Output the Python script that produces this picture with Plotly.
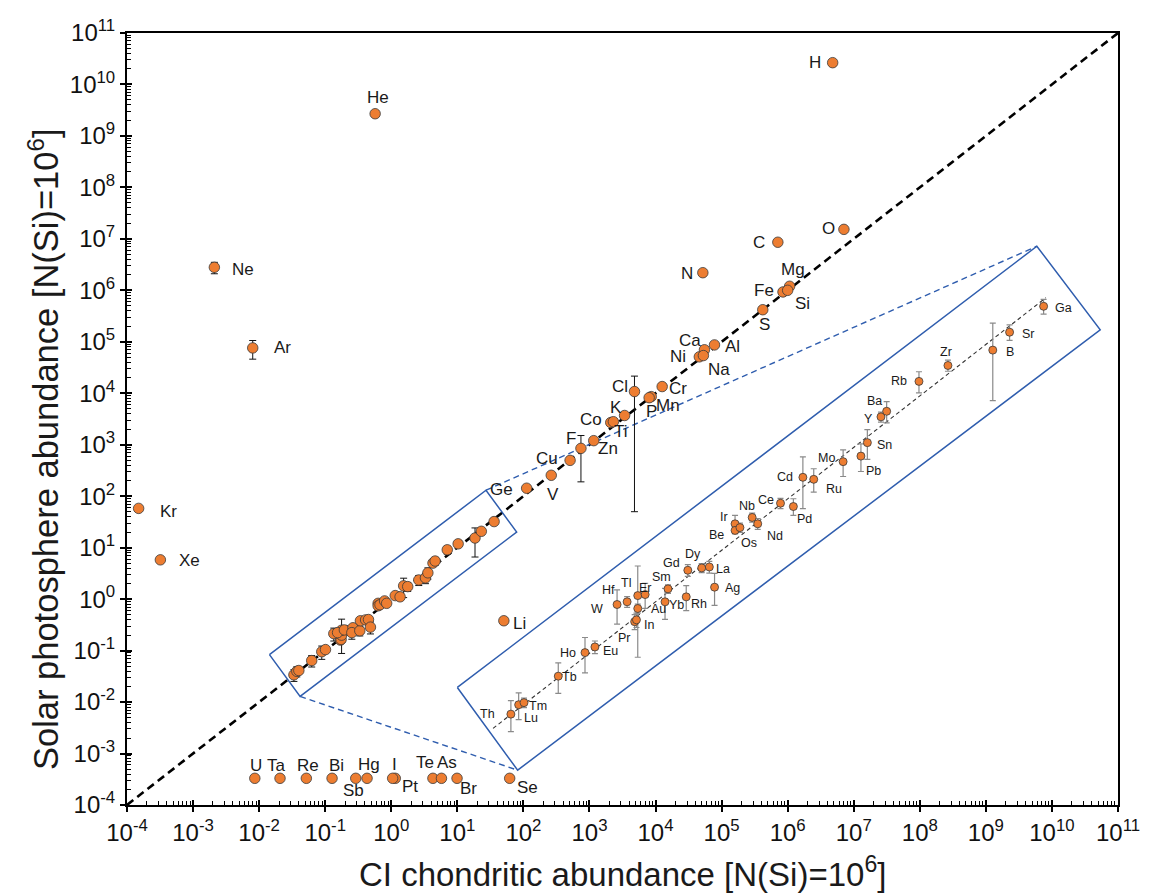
import numpy as np
import plotly.graph_objects as go

# ---------------- abundances, N(Si) = 1e6 ----------------
# elements drawn only on the main axes
MAIN_ELEMENTS = ["H", "He", "C", "N", "O", "Ne", "Ar", "Kr", "Xe", "Mg", "Fe", "Si", "S", "Al",
                 "Ca", "Ni", "Na", "Cl", "Cr", "Mn", "P", "K", "Co", "Ti", "Zn", "F", "Cu", "V",
                 "Ge", "Li"]
MAIN_CI = [4.8e6, 0.57, 7.1e5, 5.2e4, 7.1e6, 2.1e-3, 8.0e-3, 1.5e-4, 3.2e-4, 1.07e6, 8.5e5, 1.0e6,
           4.2e5, 7.8e4, 5.5e4, 4.6e4, 5.3e4, 4.8e3, 1.26e4, 8.6e3, 8.0e3, 3.4e3, 2.1e3, 2.3e3,
           1.16e3, 743, 509, 264, 112, 50.6]
MAIN_SOLAR = [2.65e10, 2.7e9, 8.6e6, 2.2e6, 1.53e7, 2.8e6, 7.6e4, 58, 5.8, 1.2e6, 9.3e5, 1.0e6,
              4.2e5, 8.7e4, 7.0e4, 5.1e4, 5.4e4, 1.08e4, 1.35e4, 8.6e3, 8.2e3, 3.7e3, 2.7e3, 2.8e3,
              1.2e3, 850, 497, 255, 143, 0.38]
MAIN_ERR = [0, 0, 0, 2.0e5, 1.0e6, 7.0e5, 3.0e4, 0, 0, 1.0e5, 1.0e5, 0, 3.0e4, 6.0e3, 5.0e3, 4.0e3,
            4.0e3, 1.075e4, 1.0e3, 600, 600, 300, 200, 200, 100, 660, 50, 20, 15, 0.05]

# trace elements: shown on the main axes and again, magnified, in the inset
INSET_ELEMENTS = ["Th", "Lu", "Tm", "Tb", "Ho", "Eu", "Pr", "In", "Au", "Tl", "W", "Hf", "Er", "Sm",
                  "Yb", "Rh", "Gd", "Dy", "La", "Ag", "Ir", "Be", "Os", "Nb", "Nd", "Ce", "Pd", "Cd",
                  "Ru", "Mo", "Pb", "Sn", "Y", "Ba", "Rb", "Zr", "B", "Sr", "Ga"]
INSET_CI = [0.0336, 0.0372, 0.0399, 0.0625, 0.0887, 0.101, 0.170, 0.174, 0.177, 0.177, 0.135, 0.154,
            0.195, 0.263, 0.253, 0.334, 0.341, 0.409, 0.452, 0.484, 0.633, 0.633, 0.675, 0.792,
            0.852, 1.148, 1.359, 1.539, 1.774, 2.607, 3.292, 3.581, 4.28, 4.611, 7.04, 10.29,
            18.51, 23.07, 36.02]
INSET_SOLAR = [0.0338, 0.0396, 0.0410, 0.064, 0.0951, 0.1046, 0.160, 0.165, 0.1996, 0.248, 0.2135,
               0.2234, 0.2524, 0.2777, 0.2234, 0.2428, 0.3798, 0.3947, 0.4014, 0.2857, 0.829, 0.742,
               0.778, 0.9226, 0.829, 1.172, 1.109, 1.812, 1.752, 2.357, 2.588, 3.246, 5.008, 5.499,
               9.09, 11.88, 15.38, 20.79, 32.13]
INSET_ERR = [0.0086, 0.0088, 0.0033, 0.016, 0.0275, 0.011, 0.02, 0.02, 0.015, 0.16, 0.06, 0.02,
             0.052, 0.02, 0.057, 0.05, 0.037, 0.03, 0.04, 0.075, 0.127, 0.04, 0.06, 0.07, 0.075,
             0.1, 0.155, 0.74, 0.34, 0.52, 0.59, 0.8, 0.42, 0.98, 1.6, 1.1, 8.8, 2.7, 4.0]

# elements without a photospheric determination, parked on a floor level
FLOOR_ELEMENTS = ["U", "Ta", "Re", "Bi", "Sb", "Hg", "I", "Pt", "Te", "As", "Br", "Se"]
FLOOR_CI = [8.6e-3, 0.0207, 0.0518, 0.127, 0.29, 0.43, 1.15, 1.05, 4.27, 5.75, 9.9, 62]
FLOOR_SOLAR = [3.3e-4] * len(FLOOR_ELEMENTS)

DECADES = list(range(-4, 12))

# ---------------- layout helpers ----------------
ORANGE = "#ED7D31"
EDGE = "#3a3a3a"
BLUE = "#2F5DAE"
FONT = "Liberation Sans, Arial, sans-serif"

# inset magnification (log space): X = shift_x + zoom*log10(x), Y = shift_y + zoom*log10(y)
INSET_ZOOM = 2.661
INSET_SHIFT = (5.732, 1.68)
INSET_LINE_SPAN = (-1.575, 1.569)          # extent of the 1:1 guide inside the inset (log10)

# outlines (log10 units)
ZOOM_BOX = [(-1.844, -1.078), (-1.380, -1.890), (1.898, 1.303), (1.434, 2.116)]
INSET_BOX = [(1.0, -1.716), (1.913, -3.323), (10.731, 5.232), (9.772, 6.857)]

MAIN_LABEL_SHIFT = {
    "H": (-18, 0), "He": (3, 16), "C": (-19, 0), "N": (-16, -1), "O": (-15, 1), "Ne": (29, -2),
    "Ar": (30, 0), "Kr": (30, -3), "Xe": (29, -1), "Mg": (3, 17), "Fe": (-19, 1), "Si": (15, -13),
    "S": (2, -15), "Al": (18, -2), "Ca": (-14, 9), "Ni": (-21, 0), "Na": (16, -14), "Cl": (-14, 5),
    "Cr": (16, -2), "Mn": (17, -9), "P": (2, -14), "K": (-9, 8), "Co": (-20, 3), "Ti": (8, -10),
    "Zn": (14, -8), "F": (-10, 10), "Cu": (-23, 2), "V": (2, -19), "Ge": (-25, -1), "Li": (16, -3),
}
FLOOR_LABEL_SHIFT = {
    "U": (1, 13), "Ta": (-4, 13), "Re": (2, 13), "Bi": (4, 13), "Sb": (-2, -12), "Hg": (2, 14),
    "I": (-1, 14), "Pt": (17, -8), "Te": (-8, 16), "As": (6, 16), "Br": (11, -10), "Se": (18, -9),
}
INSET_LABEL_SHIFT = {
    "Th": (-23, 0), "Lu": (12, -13), "Tm": (14, -3), "Tb": (11, -1), "Ho": (-17, 0), "Eu": (16, -4),
    "Pr": (-10, -16), "In": (13, -5), "Au": (21, 0), "Tl": (-12, 13), "W": (-20, -4),
    "Hf": (-19, 12), "Er": (0, 7), "Sm": (-6, 12), "Yb": (11, -3), "Rh": (13, -7), "Gd": (-16, 7),
    "Dy": (-9, 14), "La": (14, -2), "Ag": (18, -1), "Ir": (-11, 7), "Be": (-19, -5),
    "Os": (9, -15), "Nb": (-5, 11), "Nd": (17, -12), "Ce": (-15, 3), "Pd": (11, -12),
    "Cd": (-18, 0), "Ru": (20, -10), "Mo": (-17, 4), "Pb": (13, -15), "Sn": (17, -2),
    "Y": (-12, -2), "Ba": (-12, 10), "Rb": (-20, 0), "Zr": (-2, 13), "B": (17, -2), "Sr": (19, -2),
    "Ga": (20, -2),
}


def to_inset(lx, ly):
    return INSET_SHIFT[0] + INSET_ZOOM * lx, INSET_SHIFT[1] + INSET_ZOOM * ly


def outline(points, closed=True):
    pts = list(points) + ([points[0]] if closed else [])
    return [10.0 ** p[0] for p in pts], [10.0 ** p[1] for p in pts]


fig = go.Figure()

# 1:1 reference line across the full axes
fig.add_trace(go.Scatter(x=[10.0 ** DECADES[0], 10.0 ** DECADES[-1]],
                         y=[10.0 ** DECADES[0], 10.0 ** DECADES[-1]], mode="lines",
                         line=dict(color="black", width=2.6, dash="8px,5px"), hoverinfo="skip"))

# zoom region, inset frame and the connecting guides
bx, by = outline(ZOOM_BOX)
fig.add_trace(go.Scatter(x=bx, y=by, mode="lines", line=dict(color=BLUE, width=1.5), hoverinfo="skip"))
bx, by = outline(INSET_BOX)
fig.add_trace(go.Scatter(x=bx, y=by, mode="lines", line=dict(color=BLUE, width=1.5), hoverinfo="skip"))
for a, b in [(ZOOM_BOX[3], INSET_BOX[3]), (ZOOM_BOX[1], INSET_BOX[1])]:
    cx, cy = outline([a, b], closed=False)
    fig.add_trace(go.Scatter(x=cx, y=cy, mode="lines",
                             line=dict(color=BLUE, width=1.4, dash="6px,4px"), hoverinfo="skip"))

# 1:1 guide inside the inset
gx, gy = to_inset(np.array(INSET_LINE_SPAN), np.array(INSET_LINE_SPAN))
fig.add_trace(go.Scatter(x=10.0 ** gx, y=10.0 ** gy, mode="lines",
                         line=dict(color="#333333", width=1.1, dash="4px,3px"), hoverinfo="skip"))

marker_main = dict(color=ORANGE, size=10.5, line=dict(color=EDGE, width=0.8))

# main-axes points
all_ci = MAIN_CI + INSET_CI
all_sol = MAIN_SOLAR + INSET_SOLAR
all_err = MAIN_ERR + INSET_ERR
fig.add_trace(go.Scatter(x=all_ci, y=all_sol, mode="markers", marker=marker_main,
                         error_y=dict(type="data", array=all_err, color="#111111", thickness=1,
                                      width=3.5),
                         hoverinfo="skip"))
fig.add_trace(go.Scatter(x=FLOOR_CI, y=FLOOR_SOLAR, mode="markers", marker=marker_main,
                         hoverinfo="skip"))

# magnified inset points
ci = np.array(INSET_CI)
sol = np.array(INSET_SOLAR)
err = np.array(INSET_ERR)
ix, iy = to_inset(np.log10(ci), np.log10(sol))
iy_hi = INSET_SHIFT[1] + INSET_ZOOM * np.log10(sol + err)
iy_lo = INSET_SHIFT[1] + INSET_ZOOM * np.log10(np.clip(sol - err, 1e-9, None))
px, py = 10.0 ** ix, 10.0 ** iy
fig.add_trace(go.Scatter(x=px, y=py, mode="markers",
                         marker=dict(color=ORANGE, size=8, line=dict(color=EDGE, width=0.8)),
                         error_y=dict(type="data", symmetric=False, array=10.0 ** iy_hi - py,
                                      arrayminus=py - 10.0 ** iy_lo, color="#8a8a8a",
                                      thickness=1.2, width=3),
                         hoverinfo="skip"))

# overlay axes carry the inward half of the major ticks
fig.add_trace(go.Scatter(x=[], y=[], xaxis="x2", yaxis="y2", hoverinfo="skip"))

annotations = []


def label(name, lx, ly, shift, size):
    annotations.append(dict(x=lx, y=ly, xref="x", yref="y", text=name, showarrow=False,
                            xshift=shift[0], yshift=shift[1], xanchor="center", yanchor="middle",
                            font=dict(family=FONT, size=size, color="#1a1a1a")))


for n, c, s in zip(MAIN_ELEMENTS, MAIN_CI, MAIN_SOLAR):
    label(n, np.log10(c), np.log10(s), MAIN_LABEL_SHIFT[n], 17)
for n, c, s in zip(FLOOR_ELEMENTS, FLOOR_CI, FLOOR_SOLAR):
    label(n, np.log10(c), np.log10(s), FLOOR_LABEL_SHIFT[n], 17)
for n, lx_, ly_ in zip(INSET_ELEMENTS, ix, iy):
    label(n, lx_, ly_, INSET_LABEL_SHIFT[n], 12.5)

annotations.append(dict(text="CI chondritic abundance [N(Si)=10<sup>6</sup>]", xref="paper",
                        yref="paper", x=0.5, y=-0.0868, xanchor="center", yanchor="middle",
                        showarrow=False, font=dict(family=FONT, size=33, color="#1a1a1a")))
annotations.append(dict(text="Solar photosphere abundance [N(Si)=10<sup>6</sup>]", xref="paper",
                        yref="paper", x=-0.0848, y=0.461, xanchor="center", yanchor="middle",
                        textangle=-90, showarrow=False,
                        font=dict(family=FONT, size=34.5, color="#1a1a1a")))

tickvals = [10.0 ** d for d in DECADES]
ticktext = [f"10<sup>{d}</sup>" for d in DECADES]
minor_vals = [k * 10.0 ** d for d in DECADES[:-1] for k in range(2, 10)]

axis = dict(type="log", range=[DECADES[0], DECADES[-1]], tickmode="array", tickvals=tickvals,
            ticktext=ticktext, ticks="outside", ticklen=5, tickwidth=1.5, tickcolor="black",
            showline=True, linewidth=2, linecolor="black", mirror=True, showgrid=False,
            zeroline=False, tickfont=dict(family=FONT, size=24, color="#111111"),
            minor=dict(tickmode="array", tickvals=minor_vals, ticks="inside", ticklen=4,
                       tickwidth=1, tickcolor="black", showgrid=False))
overlay = dict(type="log", range=[DECADES[0], DECADES[-1]], tickmode="array", tickvals=tickvals,
               ticks="inside", ticklen=5, tickwidth=1.5, tickcolor="black", showticklabels=False,
               showline=False, showgrid=False, zeroline=False)

fig.update_layout(
    width=1152, height=894,
    margin=dict(l=127, r=23, t=33, b=89),
    paper_bgcolor="white", plot_bgcolor="white",
    showlegend=False,
    xaxis=axis,
    yaxis=axis,
    xaxis2=dict(overlay, overlaying="x", anchor="y", side="bottom"),
    yaxis2=dict(overlay, overlaying="y", anchor="x", side="left"),
    annotations=annotations,
)

fig.write_html("out.html")
